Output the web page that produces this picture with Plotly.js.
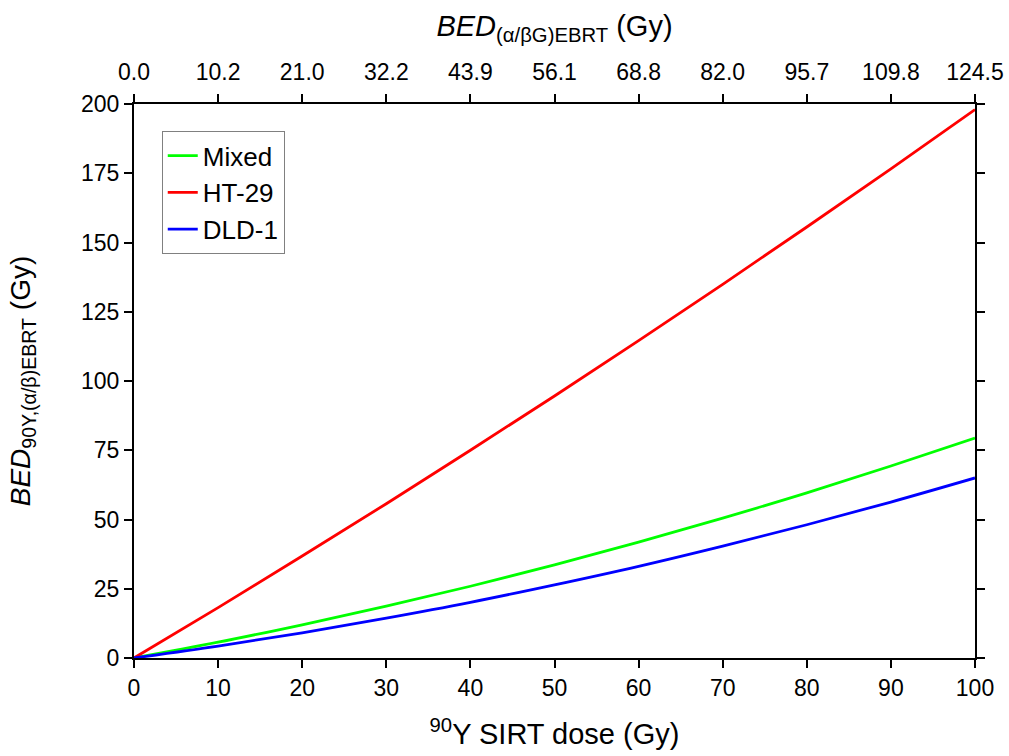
<!DOCTYPE html>
<html>
<head>
<meta charset="utf-8">
<script src="https://cdn.plot.ly/plotly-3.0.1.min.js"></script>
<style>html,body{margin:0;padding:0;background:#fff;}#chart{width:1009px;height:756px;}</style>
</head>
<body>
<div id="chart"></div>
<script>
const dose = [0, 10, 20, 30, 40, 50, 60, 70, 80, 90, 100];
const mixed = [0, 5.7, 12.0, 18.7, 25.9, 33.6, 41.8, 50.5, 59.6, 69.3, 79.4];
const ht29 = [0, 18.2, 36.8, 55.7, 75.0, 94.6, 114.6, 134.9, 155.6, 176.6, 198.0];
const dld1 = [0, 4.3, 9.1, 14.4, 20.1, 26.4, 33.1, 40.4, 48.1, 56.3, 65.0];
const topTickVals = [0, 10, 20, 30, 40, 50, 60, 70, 80, 90, 100];
const topTickText = ["0.0", "10.2", "21.0", "32.2", "43.9", "56.1", "68.8", "82.0", "95.7", "109.8", "124.5"];

const font = "Liberation Sans, Arial, sans-serif";
const traces = [
  {x: dose, y: mixed, name: "Mixed", legendgroup: "a", mode: "lines", line: {color: "#00ff00", width: 2.8, shape: "spline"}},
  {x: dose, y: ht29, name: "HT-29", legendgroup: "b", mode: "lines", line: {color: "#ff0000", width: 2.8, shape: "spline"}},
  {x: dose, y: dld1, name: "DLD-1", legendgroup: "c", mode: "lines", line: {color: "#0000ff", width: 2.8, shape: "spline"}},
  {x: [0, 100], y: [null, null], xaxis: "x2", yaxis: "y", showlegend: false, hoverinfo: "skip", mode: "lines"}
];
const axisCommon = {
  showgrid: false, zeroline: false, showline: true, linecolor: "#000", linewidth: 2,
  ticks: "outside", ticklen: 8, tickwidth: 2, tickcolor: "#000",
  tickfont: {family: font, size: 23, color: "#000"}
};
const layout = {
  width: 1009, height: 756,
  margin: {l: 134, r: 34, t: 104, b: 98},
  paper_bgcolor: "#fff", plot_bgcolor: "#fff",
  font: {family: font, color: "#000"},
  showlegend: true,
  legend: {x: 0.033, y: 0.951, xanchor: "left", yanchor: "top", bordercolor: "#808080", borderwidth: 1,
           bgcolor: "rgba(255,255,255,0)", font: {family: font, size: 26, color: "#000"},
           traceorder: "grouped", tracegroupgap: 0},
  xaxis: Object.assign({}, axisCommon, {range: [0, 100], tickvals: [0,10,20,30,40,50,60,70,80,90,100],
    title: {text: "<sup>90</sup>Y SIRT dose (Gy)", font: {family: font, size: 29}, standoff: 24}}),
  xaxis2: Object.assign({}, axisCommon, {range: [0, 100], overlaying: "x", side: "top", anchor: "y",
    tickvals: topTickVals, ticktext: topTickText, ticklabelstandoff: 5,
    title: {text: "<i>BED</i><sub>(α/βG)EBRT</sub> (Gy)", font: {family: font, size: 29}, standoff: 14}}),
  yaxis: Object.assign({}, axisCommon, {range: [0, 200], tickvals: [0,25,50,75,100,125,150,175,200], mirror: "ticks",
    title: {text: "<i>BED</i><sub>90Y,(α/β)EBRT</sub> (Gy)", font: {family: font, size: 28}, standoff: 42}})
};
Plotly.newPlot("chart", traces, layout, {displayModeBar: false, staticPlot: true});
</script>
</body>
</html>
